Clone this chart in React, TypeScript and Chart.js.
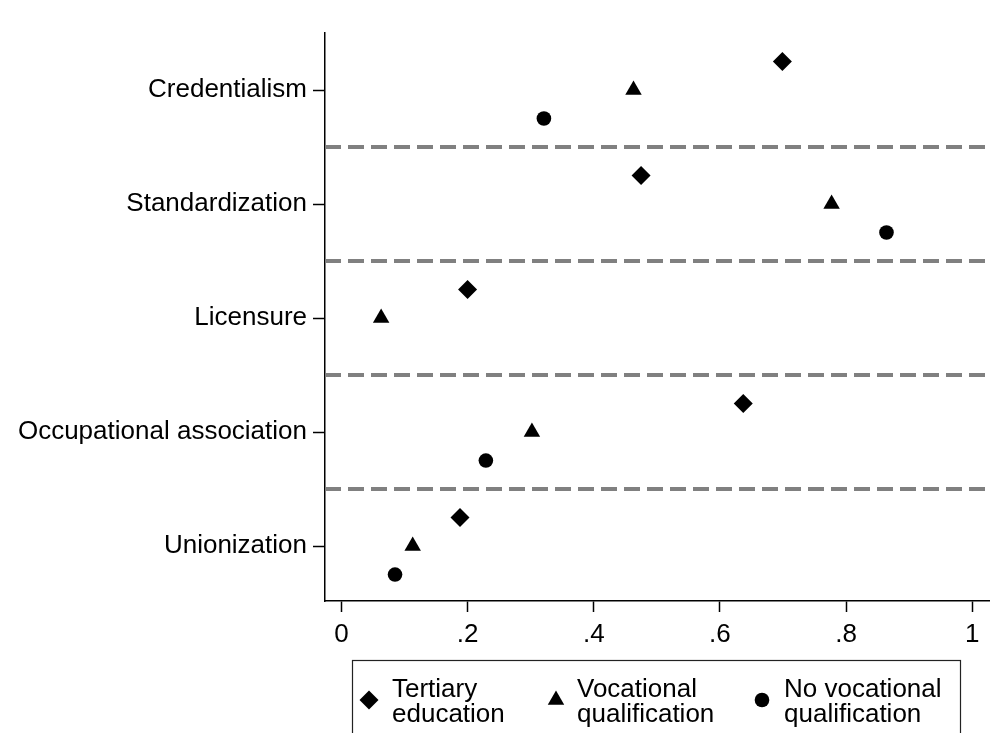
import React, { useEffect, useRef } from "react";
import { Chart, registerables } from "chart.js";

Chart.register(...registerables);

const categories = [
  "Credentialism",
  "Standardization",
  "Licensure",
  "Occupational association",
  "Unionization",
];
const tertiary = [0.699, 0.475, 0.2, 0.637, 0.188];
const vocational = [0.463, 0.777, 0.063, 0.302, 0.113];
const noVocational: (number | null)[] = [0.321, 0.864, null, 0.229, 0.085];
const xTicks = [0, 0.2, 0.4, 0.6, 0.8, 1];
const xTickLabels = ["0", ".2", ".4", ".6", ".8", "1"];
const seriesNames = [
  ["Tertiary", "education"],
  ["Vocational", "qualification"],
  ["No vocational", "qualification"],
];
const seriesOffsets = [0.25, 0, -0.25];

const FONT = '"Liberation Sans", Arial, Helvetica, sans-serif';
const FONT_SIZE = 26;

const catPos = (i: number) => categories.length - i;
const separators = categories.slice(1).map((_, i) => catPos(i) - 0.5);

function toPoints(vals: (number | null)[], off: number) {
  const out: { x: number; y: number }[] = [];
  vals.forEach((v, i) => {
    if (v !== null && v !== undefined) out.push({ x: v, y: catPos(i) + off });
  });
  return out;
}

function drawMarker(ctx: CanvasRenderingContext2D, kind: string, x: number, y: number) {
  ctx.save();
  ctx.fillStyle = "#000";
  ctx.beginPath();
  if (kind === "diamond") {
    const r = 9.5;
    ctx.moveTo(x, y - r);
    ctx.lineTo(x + r, y);
    ctx.lineTo(x, y + r);
    ctx.lineTo(x - r, y);
    ctx.closePath();
  } else if (kind === "triangle") {
    const r = 9.5;
    ctx.moveTo(x, y - r);
    ctx.lineTo(x + r * 0.866, y + r / 2);
    ctx.lineTo(x - r * 0.866, y + r / 2);
    ctx.closePath();
  } else {
    ctx.arc(x, y, 7.3, 0, Math.PI * 2);
  }
  ctx.fill();
  ctx.restore();
}

const separatorPlugin = {
  id: "separators",
  beforeDatasetsDraw(chart: any) {
    const { ctx, chartArea, scales } = chart;
    ctx.save();
    ctx.strokeStyle = "#808080";
    ctx.lineWidth = 4;
    ctx.setLineDash([16, 7]);
    separators.forEach((s) => {
      const y = scales.y.getPixelForValue(s);
      ctx.beginPath();
      ctx.moveTo(chartArea.left, y);
      ctx.lineTo(chartArea.right, y);
      ctx.stroke();
    });
    ctx.restore();
  },
};

const legendPlugin = {
  id: "boxLegend",
  afterDraw(chart: any) {
    const { ctx, chartArea } = chart;
    const top = chartArea.bottom + 59;
    const left = 352;
    const right = 960;
    ctx.save();
    ctx.strokeStyle = "#222";
    ctx.lineWidth = 1.2;
    ctx.strokeRect(left + 0.5, top + 0.5, right - left, 120);
    const kinds = ["diamond", "triangle", "circle"];
    const markerX = [369, 556, 762];
    const textX = [392, 577, 784];
    ctx.font = `${FONT_SIZE}px ${FONT}`;
    ctx.fillStyle = "#000";
    ctx.textBaseline = "middle";
    ctx.textAlign = "left";
    seriesNames.forEach((lines, k) => {
      drawMarker(ctx, kinds[k], markerX[k], top + 40);
      lines.forEach((ln, j) => {
        ctx.fillText(ln, textX[k], top + 30 + j * 25);
      });
    });
    ctx.restore();
  },
};

export default function App() {
  const ref = useRef<HTMLCanvasElement | null>(null);
  useEffect(() => {
    if (!ref.current) return;
    const chart = new Chart(ref.current, {
      type: "scatter",
      data: {
        datasets: [
          {
            label: "Tertiary education",
            data: toPoints(tertiary, seriesOffsets[0]),
            pointStyle: "rectRot",
            pointRadius: 9.5,
            backgroundColor: "#000",
            borderWidth: 0,
          },
          {
            label: "Vocational qualification",
            data: toPoints(vocational, seriesOffsets[1]),
            pointStyle: "triangle",
            pointRadius: 9.5,
            backgroundColor: "#000",
            borderWidth: 0,
          },
          {
            label: "No vocational qualification",
            data: toPoints(noVocational, seriesOffsets[2]),
            pointStyle: "circle",
            pointRadius: 7.3,
            backgroundColor: "#000",
            borderWidth: 0,
          },
        ],
      },
      options: {
        responsive: false,
        animation: false,
        layout: { padding: { top: 33, right: 12, left: 0, bottom: 0 } },
        plugins: {
          legend: { display: false },
          tooltip: { enabled: false },
        },
        scales: {
          x: {
            type: "linear",
            min: -0.026,
            max: 1.0265,
            afterBuildTicks: (s: any) => {
              s.ticks = xTicks.map((v) => ({ value: v }));
            },
            afterFit: (s: any) => {
              s.height = 132;
            },
            ticks: {
              autoSkip: false,
              maxRotation: 0,
              padding: 7,
              color: "#000",
              font: { family: FONT, size: FONT_SIZE },
              callback: (v: any, i: number) => xTickLabels[i],
            },
            grid: {
              drawOnChartArea: false,
              drawTicks: true,
              tickLength: 11,
              tickColor: "#000",
              tickWidth: 1.5,
            },
            border: { color: "#000", width: 1.5 },
          },
          y: {
            type: "linear",
            min: 0.518,
            max: 5.5,
            afterBuildTicks: (s: any) => {
              s.ticks = categories.map((_, i) => ({ value: catPos(i) }));
            },
            afterFit: (s: any) => {
              s.width = 325;
            },
            ticks: {
              autoSkip: false,
              padding: 6,
              color: "#000",
              font: { family: FONT, size: FONT_SIZE },
              callback: (v: any) => categories[categories.length - Math.round(Number(v))],
            },
            grid: {
              drawOnChartArea: false,
              drawTicks: true,
              tickLength: 12,
              tickColor: "#000",
              tickWidth: 1.5,
            },
            border: { color: "#000", width: 1.5 },
          },
        },
      },
      plugins: [separatorPlugin, legendPlugin],
    });
    return () => chart.destroy();
  }, []);
  return (
    <div style={{ position: "fixed", left: 0, top: 0, width: 1001, height: 733, background: "#fff" }}>
      <canvas ref={ref} width={1001} height={733} style={{ display: "block" }} />
    </div>
  );
}
